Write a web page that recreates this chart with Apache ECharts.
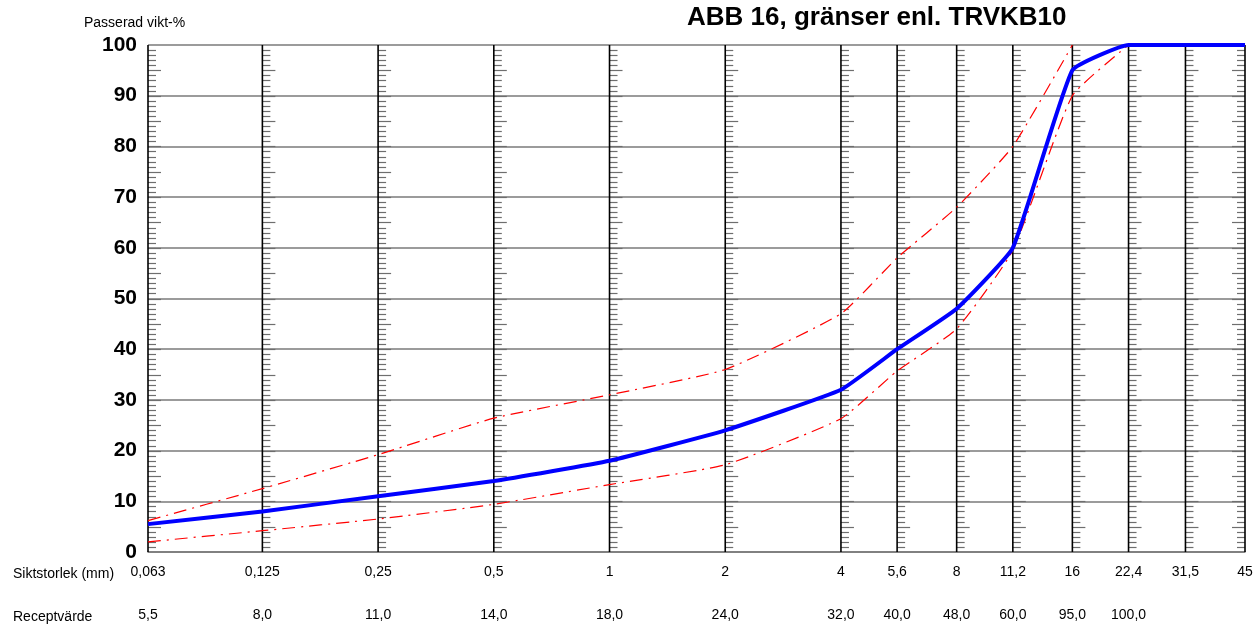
<!DOCTYPE html>
<html><head><meta charset="utf-8">
<script src="https://cdn.jsdelivr.net/npm/echarts@6/dist/echarts.min.js"></script>
<style>html,body{margin:0;padding:0;background:#fff}#c{width:1255px;height:624px}</style>
</head><body><div id="c"></div>
<script>
const sieveSizes = [0.063, 0.125, 0.25, 0.5, 1, 2, 4, 5.6, 8, 11.2, 16, 22.4, 31.5, 45];
const sieveLabels = ['0,063', '0,125', '0,25', '0,5', '1', '2', '4', '5,6', '8', '11,2', '16', '22,4', '31,5', '45'];
const recipeValues = [5.5, 8, 11, 14, 18, 24, 32, 40, 48, 60, 95, 100, 100, 100];
const recipeLabels = ['5,5', '8,0', '11,0', '14,0', '18,0', '24,0', '32,0', '40,0', '48,0', '60,0', '95,0', '100,0'];
const upperSizes = [0.063, 0.125, 0.25, 0.5, 1, 2, 4, 5.6, 8, 11.2, 16];
const upperLimit = [6.2, 12.5, 19.2, 26.4, 31, 36, 47, 58, 68, 80, 100];
const lowerSizes = [0.063, 0.125, 0.25, 0.5, 1, 2, 4, 5.6, 8, 11.2, 16, 22.4];
const lowerLimit = [2, 4.2, 6.5, 9.4, 13.3, 17.2, 26.3, 35.7, 44, 59.5, 90, 100];

const FONT = '"Liberation Sans", Arial, sans-serif';
const chart = echarts.init(document.getElementById('c'), null, {renderer: 'canvas'});

function renderSieve(params, api) {
  const s = api.value(0);
  const idx = params.dataIndex;
  const p0 = api.coord([s, 0]);
  const p100 = api.coord([s, 100]);
  const x = p0[0];
  const dir = idx === sieveSizes.length - 1 ? -1 : 1;
  const children = [];
  for (let v = 1; v < 100; v++) {
    const y = Math.round(api.coord([s, v])[1]) + 0.5;
    const len = v % 5 === 0 ? 13 : 8;
    children.push({type: 'line', shape: {x1: x, y1: y, x2: x + dir * len, y2: y},
      style: {stroke: '#6e6e6e', lineWidth: 1.2}});
  }
  children.push({type: 'line', shape: {x1: x, y1: p0[1], x2: x, y2: p100[1]},
    style: {stroke: '#000', lineWidth: 1.6}});
  children.push({type: 'text', x: x, y: p0[1] + 20,
    style: {text: sieveLabels[idx], fontFamily: FONT, fontSize: 14, fill: '#000', align: 'center', verticalAlign: 'middle'}});
  if (idx < recipeLabels.length) {
    children.push({type: 'text', x: x, y: p0[1] + 63,
      style: {text: recipeLabels[idx], fontFamily: FONT, fontSize: 14, fill: '#000', align: 'center', verticalAlign: 'middle'}});
  }
  return {type: 'group', children: children};
}

const dashDot = [13, 6, 2, 6];
const option = {
  backgroundColor: '#fff',
  animation: false,
  title: [
    {text: 'ABB 16, gränser enl. TRVKB10', left: 682, top: 0,
      textStyle: {fontFamily: FONT, fontSize: 26, fontWeight: 'bold', color: '#000'}},
    {text: 'Passerad vikt-%', left: 79, top: 11,
      textStyle: {fontFamily: FONT, fontSize: 14, fontWeight: 'normal', color: '#000'}},
    {text: 'Siktstorlek (mm)', left: 8, top: 562,
      textStyle: {fontFamily: FONT, fontSize: 14, fontWeight: 'normal', color: '#000'}},
    {text: 'Receptvärde', left: 8, top: 605,
      textStyle: {fontFamily: FONT, fontSize: 14, fontWeight: 'normal', color: '#000'}}
  ],
  grid: {left: 148, right: 10, top: 45, bottom: 72},
  xAxis: {
    type: 'log', logBase: 2, min: 0.063, max: 45,
    axisLabel: {show: false}, axisTick: {show: false}, splitLine: {show: false},
    minorTick: {show: false}, minorSplitLine: {show: false},
    axisLine: {show: true, lineStyle: {color: '#7a7a7a', width: 1.6}}
  },
  yAxis: {
    type: 'value', min: 0, max: 100, interval: 10,
    axisLine: {show: false}, axisTick: {show: false},
    axisLabel: {fontFamily: FONT, fontSize: 21, fontWeight: 'bold', color: '#000', margin: 11},
    splitLine: {show: true, lineStyle: {color: '#7a7a7a', width: 1.6}}
  },
  series: [
    {type: 'custom', z: 1, clip: false, renderItem: renderSieve,
      data: sieveSizes.map(s => [s]), silent: true},
    {type: 'line', name: 'Övre gräns', z: 3, symbol: 'none', smooth: 0.15,
      data: upperSizes.map((s, i) => [s, upperLimit[i]]),
      lineStyle: {color: '#ff0000', width: 1.2, type: dashDot}},
    {type: 'line', name: 'Undre gräns', z: 3, symbol: 'none', smooth: 0.15,
      data: lowerSizes.map((s, i) => [s, lowerLimit[i]]),
      lineStyle: {color: '#ff0000', width: 1.2, type: dashDot}},
    {type: 'line', name: 'Recept', z: 4, symbol: 'none', smooth: 0.12, clip: false,
      data: sieveSizes.map((s, i) => [s, recipeValues[i]]),
      lineStyle: {color: '#0000ff', width: 4}}
  ]
};
chart.setOption(option);
</script>
</body></html>
